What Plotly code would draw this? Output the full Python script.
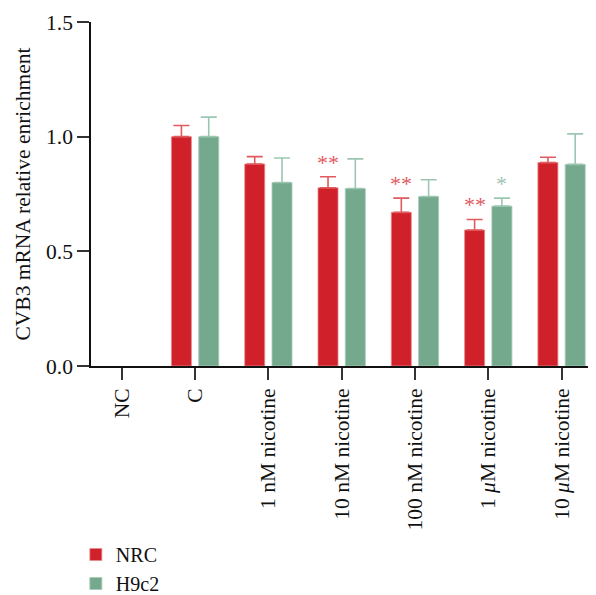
import plotly.graph_objects as go

categories = ["NC", "C", "1 nM nicotine", "10 nM nicotine", "100 nM nicotine",
              "1 <i>μ</i>M nicotine", "10 <i>μ</i>M nicotine"]
nrc_vals = [None, 1.00, 0.881, 0.777, 0.670, 0.593, 0.887]
nrc_err = [None, 0.049, 0.032, 0.048, 0.062, 0.046, 0.023]
h9c2_vals = [None, 1.00, 0.800, 0.774, 0.739, 0.697, 0.879]
h9c2_err = [None, 0.085, 0.107, 0.129, 0.073, 0.035, 0.133]
nrc_marks = ["", "", "", "**", "**", "**", ""]
h9c2_marks = ["", "", "", "", "", "*", ""]

RED = "#D0202A"
GREEN = "#74A98E"
RED_ERR = "#E05A5F"
GREEN_ERR = "#9CC6B1"
FONT = "Liberation Serif"
FS = 21.5

fig = go.Figure()
fig.add_trace(go.Bar(
    x=categories, y=nrc_vals, name="NRC",
    marker=dict(color=RED, line=dict(color="#E88A8E", width=0.8)),
    error_y=dict(type="data", symmetric=False, array=nrc_err,
                 arrayminus=[0 if e is not None else None for e in nrc_err],
                 color=RED_ERR, thickness=1.6, width=8),
))
fig.add_trace(go.Bar(
    x=categories, y=h9c2_vals, name="H9c2",
    marker=dict(color=GREEN, line=dict(color="#A5CBB8", width=0.8)),
    error_y=dict(type="data", symmetric=False, array=h9c2_err,
                 arrayminus=[0 if e is not None else None for e in h9c2_err],
                 color=GREEN_ERR, thickness=1.6, width=8),
))

for i, cat in enumerate(categories):
    if nrc_marks[i]:
        fig.add_annotation(x=cat, y=nrc_vals[i] + nrc_err[i], text=nrc_marks[i],
                           showarrow=False, xshift=-13.7, yshift=0, yanchor="bottom",
                           font=dict(family=FONT, size=22, color=RED_ERR))
    if h9c2_marks[i]:
        fig.add_annotation(x=cat, y=h9c2_vals[i] + h9c2_err[i], text=h9c2_marks[i],
                           showarrow=False, xshift=13.7, yshift=0, yanchor="bottom",
                           font=dict(family=FONT, size=22, color=GREEN_ERR))

fig.update_layout(
    width=596, height=595,
    margin=dict(l=83, r=8, t=14, b=237, autoexpand=False),
    paper_bgcolor="white", plot_bgcolor="white",
    barmode="group", bargap=0.255, bargroupgap=0.267,
    font=dict(family=FONT, size=FS, color="#111111"),
    showlegend=True,
    legend=dict(x=-0.03, y=-0.4913, xanchor="left", yanchor="top",
                font=dict(family=FONT, size=20), tracegroupgap=0,
                bgcolor="rgba(0,0,0,0)"),
)
fig.update_xaxes(
    range=[-0.42, 6.47], showline=True, linecolor="#111111", linewidth=1.5,
    ticks="outside", ticklen=12, tickwidth=1.5, tickcolor="#333333",
    tickangle=-90, showgrid=False, zeroline=False, automargin=False,
    tickfont=dict(family=FONT, size=FS),
)
fig.update_yaxes(
    range=[0, 1.5], tickvals=[0, 0.5, 1.0, 1.5], ticktext=["0.0", "0.5", "1.0", "1.5"],
    showline=True, linecolor="#111111", linewidth=1.5,
    ticks="outside", ticklen=12, tickwidth=1.5, tickcolor="#333333",
    showgrid=False, zeroline=False, automargin=False,
    title=dict(text="CVB3 mRNA relative enrichment", font=dict(family=FONT, size=FS), standoff=10),
    tickfont=dict(family=FONT, size=FS),
)

fig.write_html("out.html")
